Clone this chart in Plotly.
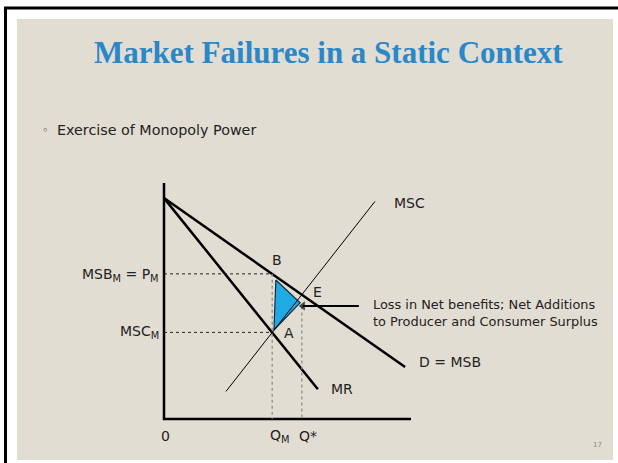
import plotly.graph_objects as go

W, H = 618, 463

# ---- data (economic units) ----
axis_q = [0.0, 0.0, 10.0]
axis_p = [10.0, 0.0, 0.0]
D_q = [0.0, 9.76]
D_p = [9.36, 2.20]
MR_q = [0.0, 6.23]
MR_p = [9.36, 1.26]
MSC_q = [2.51, 8.54]
MSC_p = [1.17, 9.22]
Q_M = 4.38
P_M = 6.15
MSC_M = 3.67
Q_star = 5.58
P_star = 5.27
tri_q = [4.53, 4.45, 5.51, 4.53]
tri_p = [5.89, 3.77, 4.92, 5.89]
arrow_q = [7.89, 5.62]
arrow_p = [4.79, 4.79]

# axis scale: Q=0 at px 164, 24.7 px per unit; P=0 at py 419, 23.6 px per unit
X0, XS = 164, 24.7
Y0, YS = 419, 23.6
x_range = [-X0 / XS, (W - X0) / XS]
y_range = [-(H - Y0) / YS, Y0 / YS]

BODY_FONT = "DejaVu Sans"
BEIGE = "#E2DDD2"
TXT = "#222222"

fig = go.Figure()

fig.add_trace(go.Scatter(x=tri_q, y=tri_p, mode="lines", fill="toself",
                         fillcolor="#1EAAE2", line=dict(color="#1a2a3a", width=1.2)))
fig.add_trace(go.Scatter(x=axis_q, y=axis_p, mode="lines", line=dict(color="black", width=2.5)))
fig.add_trace(go.Scatter(x=D_q, y=D_p, mode="lines", line=dict(color="black", width=2.5)))
fig.add_trace(go.Scatter(x=MR_q, y=MR_p, mode="lines", line=dict(color="black", width=2.5)))
fig.add_trace(go.Scatter(x=MSC_q, y=MSC_p, mode="lines", line=dict(color="black", width=1)))
fig.add_trace(go.Scatter(x=[0, Q_M], y=[P_M, P_M], mode="lines",
                         line=dict(color="#222", width=1, dash="3px,3px")))
fig.add_trace(go.Scatter(x=[0, Q_M], y=[MSC_M, MSC_M], mode="lines",
                         line=dict(color="#222", width=1, dash="3px,3px")))
fig.add_trace(go.Scatter(x=[Q_M, Q_M], y=[P_M, 0], mode="lines",
                         line=dict(color="#888", width=1.2, dash="3px,3px")))
fig.add_trace(go.Scatter(x=[Q_star, Q_star], y=[P_star - 0.5, 0], mode="lines",
                         line=dict(color="#888", width=1.2, dash="3px,3px")))
# pointer arrow (line + arrowhead marker at its end)
fig.add_trace(go.Scatter(x=arrow_q, y=arrow_p, mode="lines+markers",
                         line=dict(color="black", width=2),
                         marker=dict(symbol=["circle", "triangle-left"], size=[0, 8],
                                     color="black", line=dict(width=0))))

fig.update_traces(showlegend=False, hoverinfo="skip")

shapes = [
    dict(type="rect", xref="paper", yref="paper", x0=17/W, x1=613/W, y0=1-460/H, y1=1-19/H,
         fillcolor=BEIGE, line=dict(width=0), layer="below"),
    dict(type="line", xref="paper", yref="paper", x0=5.5/W, x1=5.5/W, y0=0, y1=1-7/H,
         line=dict(color="black", width=3), layer="below"),
    dict(type="line", xref="paper", yref="paper", x0=4/W, x1=1, y0=1-8/H, y1=1-8/H,
         line=dict(color="black", width=3), layer="below"),
]

def ann(x, y, text, xanchor="center", yanchor="middle", size=14, **kw):
    return dict(x=x, y=y, xref="x", yref="y", text=text, showarrow=False,
                xanchor=xanchor, yanchor=yanchor,
                font=dict(family=BODY_FONT, size=size, color=TXT), **kw)

annotations = [
    dict(x=328/W, y=1-52/H, xref="paper", yref="paper", showarrow=False,
         text="<b>Market Failures in a Static Context</b>",
         font=dict(family="Liberation Serif", size=31, color="#2A87C8"),
         xanchor="center", yanchor="middle"),
    dict(x=40/W, y=1-130/H, xref="paper", yref="paper", showarrow=False,
         text="◦", font=dict(family="DejaVu Sans", size=11, color=TXT),
         xanchor="left", yanchor="middle"),
    dict(x=55/W, y=1-130/H, xref="paper", yref="paper", showarrow=False,
         text="Exercise of Monopoly Power", font=dict(family=BODY_FONT, size=14.3, color=TXT),
         xanchor="left", yanchor="middle"),
    dict(x=597/W, y=1-445/H, xref="paper", yref="paper", showarrow=False,
         text="17", font=dict(family=BODY_FONT, size=7, color="#888"),
         xanchor="center", yanchor="middle"),
    ann(4.57, 6.74, "B"),
    ann(6.23, 5.38, "E"),
    ann(5.06, 3.64, "A"),
    ann(9.23, 9.15, "MSC", xanchor="left"),
    ann(10.24, 2.42, "D = MSB", xanchor="left"),
    ann(6.68, 1.27, "MR", xanchor="left"),
    ann(0.08, -0.72, "0"),
    ann(4.21, -0.72, "Q<sub>M</sub>", xanchor="left"),
    ann(5.38, -0.72, "Q*", xanchor="left"),
    ann(-0.12, 6.1, "MSB<sub>M</sub> = P<sub>M</sub>", xanchor="right"),
    ann(-0.12, 3.69, "MSC<sub>M</sub>", xanchor="right"),
    ann(8.38, 4.51, "Loss in Net benefits; Net Additions<br>to Producer and Consumer Surplus",
        xanchor="left", size=12.9, align="left"),
]

fig.update_layout(
    width=W, height=H, margin=dict(l=0, r=0, t=0, b=0),
    paper_bgcolor="white", plot_bgcolor="rgba(0,0,0,0)",
    shapes=shapes, annotations=annotations, showlegend=False,
    xaxis=dict(domain=[0, 1], range=x_range, visible=False, fixedrange=True),
    yaxis=dict(domain=[0, 1], range=y_range, visible=False, fixedrange=True),
)

fig.write_html("out.html", config={"displayModeBar": False},
               post_script="document.body.style.margin='0';document.body.style.overflow='hidden';")
